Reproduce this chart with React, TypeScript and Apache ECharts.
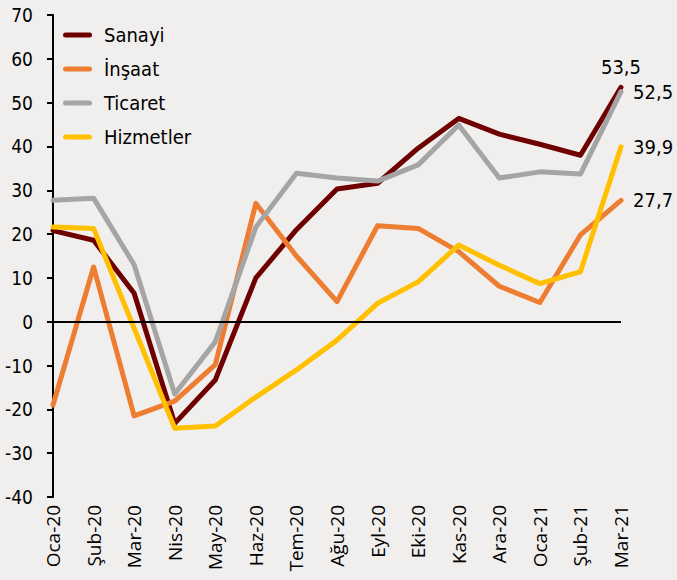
import React, { useEffect, useRef } from "react";
import * as echarts from "echarts";

const categories = ["Oca-20", "Şub-20", "Mar-20", "Nis-20", "May-20", "Haz-20", "Tem-20", "Ağu-20", "Eyl-20", "Eki-20", "Kas-20", "Ara-20", "Oca-21", "Şub-21", "Mar-21"];
const sanayi = [20.8, 18.6, 6.5, -23.2, -13.3, 10.0, 21.0, 30.3, 31.6, 39.6, 46.4, 42.8, 40.5, 38.0, 53.5];
const insaat = [-19.0, 12.5, -21.5, -18.1, -9.8, 27.0, 15.0, 4.6, 21.9, 21.3, 16.0, 8.1, 4.4, 19.8, 27.7];
const ticaret = [27.7, 28.2, 13.0, -16.5, -4.6, 21.6, 33.9, 32.8, 32.1, 35.8, 44.9, 32.8, 34.2, 33.7, 52.5];
const hizmetler = [21.6, 21.3, -1.5, -24.3, -23.8, -17.2, -11.0, -4.2, 4.2, 9.1, 17.5, 12.9, 8.7, 11.4, 39.9];
const yTicks = { min: -40, max: 70, interval: 10 };

const TXT = '"DejaVu Sans Condensed", "DejaVu Sans", sans-serif';
const XTXT = '"Open Sans", "Noto Sans", sans-serif';

export default function App() {
  const ref = useRef<HTMLDivElement>(null);
  useEffect(() => {
    document.body.style.margin = "0";
    document.body.style.background = "#F1EFEE";
    const chart = echarts.init(ref.current!, null, { renderer: "svg" });
    const last = categories.length - 1;
    const mk = (name: string, data: number[], color: string, pos: string, dist: number, extra: any = {}) => ({
      name,
      type: "line",
      data,
      symbol: "circle",
      symbolSize: 0.1,
      showSymbol: true,
      showAllSymbol: true,
      lineStyle: { color, width: 5, join: "round", cap: "round" },
      itemStyle: { color },
      labelLayout: { hideOverlap: false },
      label: {
        show: true,
        position: pos,
        distance: dist,
        fontFamily: TXT,
        fontSize: 20,
        color: "#000",
        formatter: (p: any) => (p.dataIndex === last ? String(p.value).replace(".", ",") : ""),
      },
      ...extra,
    });
    chart.setOption({
      animation: false,
      backgroundColor: "#F1EFEE",
      grid: { left: 53, right: 56, top: 15, bottom: 83, containLabel: false },
      legend: {
        orient: "vertical",
        left: 63,
        top: 25,
        padding: 0,
        itemWidth: 29,
        itemHeight: 5,
        itemGap: 14,
        icon: "path://M2.5,0 L26.5,0 A2.5,2.5 0 0 1 26.5,5 L2.5,5 A2.5,2.5 0 0 1 2.5,0 Z",
        textStyle: { fontFamily: TXT, fontSize: 20, lineHeight: 20, color: "#000", padding: [0, 0, 0, 7] },
        data: ["Sanayi", "İnşaat", "Ticaret", "Hizmetler"],
      },
      xAxis: {
        type: "category",
        data: categories,
        boundaryGap: false,
        axisLine: { show: false },
        axisTick: { show: false },
        axisLabel: { rotate: 90, margin: 8, fontFamily: XTXT, fontSize: 19, color: "#000", interval: 0 },
        splitLine: { show: false },
      },
      yAxis: {
        type: "value",
        min: yTicks.min,
        max: yTicks.max,
        interval: yTicks.interval,
        axisLine: { show: true, lineStyle: { color: "#000", width: 2 } },
        axisTick: { show: true, length: 6, lineStyle: { color: "#000", width: 2 } },
        axisLabel: { margin: 20, fontFamily: TXT, fontSize: 19, color: "#000" },
        splitLine: { show: false },
      },
      series: [
        mk("Sanayi", sanayi, "#6E0000", "top", 10, {
          markLine: {
            silent: true,
            symbol: "none",
            label: { show: false },
            lineStyle: { color: "#000", width: 2, type: "solid" },
            data: [{ yAxis: 0 }],
          },
        }),
        mk("İnşaat", insaat, "#ED7D31", "right", 12),
        mk("Ticaret", ticaret, "#A5A5A5", "right", 12),
        mk("Hizmetler", hizmetler, "#FFC000", "right", 12),
      ],
    });
    return () => chart.dispose();
  }, []);
  return <div ref={ref} style={{ width: 677, height: 580 }} />;
}
